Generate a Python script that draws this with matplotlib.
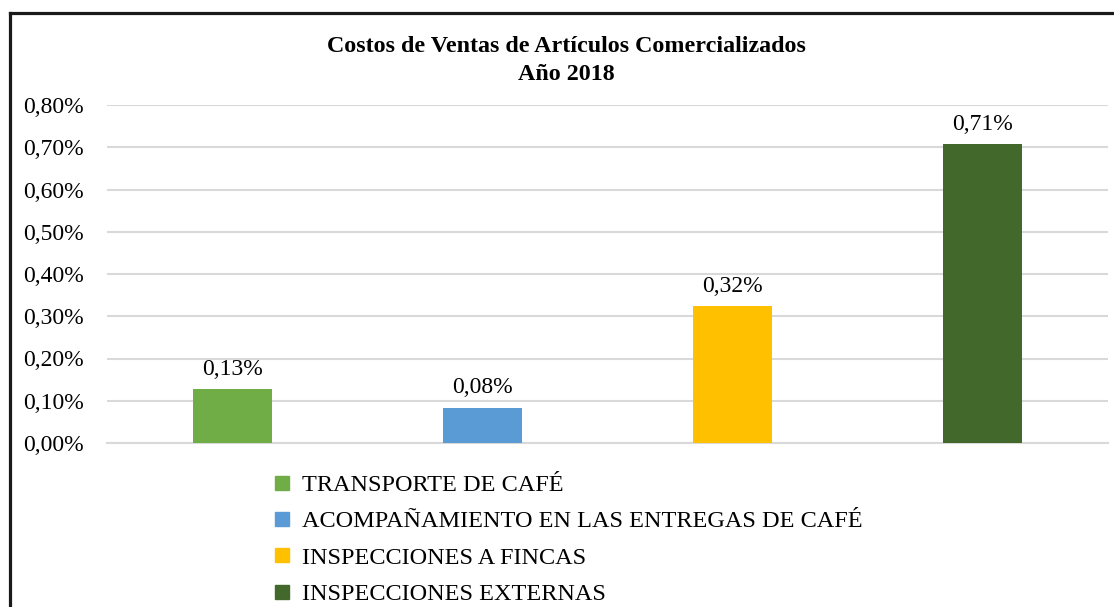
import matplotlib.pyplot as plt
from matplotlib.lines import Line2D

plt.rcParams["font.family"] = ["Liberation Serif", "DejaVu Serif"]

categories = [
    "TRANSPORTE DE CAFÉ",
    "ACOMPAÑAMIENTO EN LAS ENTREGAS DE CAFÉ",
    "INSPECCIONES A FINCAS",
    "INSPECCIONES EXTERNAS",
]
values = [0.128, 0.084, 0.324, 0.707]  # percent
colors = ["#70ad47", "#5b9bd5", "#ffc000", "#43682b"]
yticks = [0.0, 0.1, 0.2, 0.3, 0.4, 0.5, 0.6, 0.7, 0.8]

W, H = 1114, 607
fig = plt.figure(figsize=(W / 100, H / 100), dpi=100)

# chart border (cut off at right and bottom like the reference)
fig.add_artist(Line2D([10 / W, 1.0], [1 - 13 / H, 1 - 13 / H], color="#1a1a1a", lw=2.3))
fig.add_artist(Line2D([10 / W, 10 / W], [0.0, 1 - 13 / H], color="#1a1a1a", lw=2.3))

ax = fig.add_axes([107 / W, 1 - 443 / H, (1108 - 107) / W, (443 - 105) / H])
x = range(len(categories))
bars = ax.bar(x, values, width=0.316, color=colors, zorder=3)
for b, v in zip(bars, values):
    ax.text(b.get_x() + b.get_width() / 2, v + 0.022, f"{v:.2f}%".replace(".", ","),
            ha="center", va="bottom", fontsize=17, color="#000000")

ax.set_xlim(-0.5, 3.5)
ax.set_ylim(0, 0.8)
ax.set_yticks(yticks)
ax.set_yticklabels([f"{t:.2f}%".replace(".", ",") for t in yticks])
ax.tick_params(axis="y", length=0, pad=17, labelsize=17)
ax.set_xticks([])
ax.grid(axis="y", color="#d9d9d9", lw=1.5, zorder=0)
for s in ["top", "right", "left"]:
    ax.spines[s].set_visible(False)
ax.spines["bottom"].set_color("#d9d9d9")
ax.spines["bottom"].set_linewidth(1.5)

fig.text(566 / W, 1 - 47 / H, "Costos de Ventas de Artículos Comercializados",
         ha="center", va="center", fontsize=17.3, fontweight="bold")
fig.text(566 / W, 1 - 74 / H, "Año 2018",
         ha="center", va="center", fontsize=17.3, fontweight="bold")

handles = [Line2D([], [], marker="s", ls="", color=c, markersize=9.4) for c in colors]
fig.legend(handles, categories, loc="upper left", bbox_to_anchor=(272 / W, 1 - 474 / H),
           frameon=False, fontsize=17.5, handlelength=0.8, handletextpad=0.45,
           labelspacing=0.59, borderpad=0, borderaxespad=0)

fig.savefig("out.png", dpi=100)
